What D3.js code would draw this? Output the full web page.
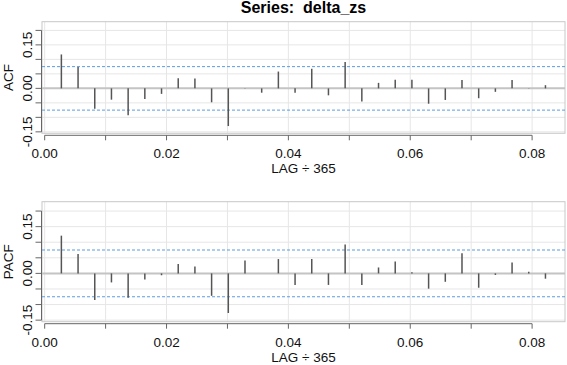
<!DOCTYPE html>
<html>
<head>
<meta charset="utf-8">
<script src="https://cdn.jsdelivr.net/npm/d3@7"></script>
<style>
  body { margin: 0; background: #fff; }
  svg { display: block; font-family: "Liberation Sans", Arial, sans-serif; }
</style>
</head>
<body>
<div id="chart"></div>
<script>
// lags 1..30, shown as LAG / 365
const lags = [1, 2, 3, 4, 5, 6, 7, 8, 9, 10, 11, 12, 13, 14, 15,
              16, 17, 18, 19, 20, 21, 22, 23, 24, 25, 26, 27, 28, 29, 30];
const frequency = 365;

const acfValues = [0.117, 0.074, -0.070, -0.039, -0.093, -0.037, -0.019, 0.035, 0.034, -0.048,
                   -0.130, 0.001, -0.015, 0.058, -0.015, 0.068, -0.024, 0.091, -0.045, 0.019,
                   0.030, 0.030, -0.053, -0.040, 0.029, -0.034, -0.012, 0.029, 0.001, 0.011];

const pacfValues = [0.121, 0.062, -0.085, -0.029, -0.078, -0.020, -0.006, 0.030, 0.022, -0.072,
                    -0.127, 0.041, 0.000, 0.046, -0.037, 0.046, -0.037, 0.093, -0.037, 0.019,
                    0.038, 0.004, -0.049, -0.027, 0.065, -0.046, -0.005, 0.035, 0.005, -0.017];

const confBound = 0.075;
const xTicks = [0, 0.01, 0.02, 0.03, 0.04, 0.05, 0.06, 0.07, 0.08];
const xTickLabels = ["0.00", "", "0.02", "", "0.04", "", "0.06", "", "0.08"];
const yTicks = [-0.15, -0.1, -0.05, 0, 0.05, 0.1, 0.15, 0.2];
const yTickLabels = ["-0.15", "", "", "0.00", "", "", "0.15", ""];

const width = 567, height = 365;
const left = 42, right = 565;

const svg = d3.select("#chart").append("svg")
    .attr("width", width)
    .attr("height", height);

// Title (keep the double space)
svg.append("text")
    .attr("x", (left + right) / 2)
    .attr("y", 13)
    .attr("text-anchor", "middle")
    .attr("font-size", "16px")
    .attr("font-weight", "bold")
    .style("white-space", "pre")
    .text("Series:  delta_zs");

const x = d3.scaleLinear()
    .domain([-0.00044, 0.0854])
    .range([left, right]);

const panels = [
    { label: "ACF", values: acfValues, top: 21.7, bottom: 133.3 },
    { label: "PACF", values: pacfValues, top: 201.7, bottom: 321.7 }
];

panels.forEach(p => {
    const y = d3.scaleLinear()
        .domain([-0.155, 0.23])
        .range([p.bottom, p.top]);

    const g = svg.append("g");

    // grid
    g.selectAll(".vgrid").data(xTicks).enter().append("line")
        .attr("x1", d => x(d)).attr("x2", d => x(d))
        .attr("y1", p.top).attr("y2", p.bottom)
        .attr("stroke", "#e6e6e6").attr("stroke-width", 1);
    g.selectAll(".hgrid").data(yTicks).enter().append("line")
        .attr("x1", left).attr("x2", right)
        .attr("y1", d => y(d)).attr("y2", d => y(d))
        .attr("stroke", "#e6e6e6").attr("stroke-width", 1);

    // box
    g.append("rect")
        .attr("x", left).attr("y", p.top)
        .attr("width", right - left).attr("height", p.bottom - p.top)
        .attr("fill", "none").attr("stroke", "#c8c8c8").attr("stroke-width", 1);

    // zero line
    g.append("line")
        .attr("x1", left).attr("x2", right)
        .attr("y1", y(0)).attr("y2", y(0))
        .attr("stroke", "#c4c4c4").attr("stroke-width", 2);

    // confidence bounds
    [confBound, -confBound].forEach(v => {
        g.append("line")
            .attr("x1", left).attr("x2", right)
            .attr("y1", y(v)).attr("y2", y(v))
            .attr("stroke", "#5b9be0").attr("stroke-width", 1)
            .attr("stroke-dasharray", "3,2");
    });

    // spikes
    g.selectAll(".spike").data(p.values).enter().append("line")
        .attr("x1", (d, i) => x(lags[i] / frequency))
        .attr("x2", (d, i) => x(lags[i] / frequency))
        .attr("y1", y(0))
        .attr("y2", d => y(d))
        .attr("stroke", "#555").attr("stroke-width", 1.5);

    // y axis
    const yAxisX = left - 0.5;
    g.append("line")
        .attr("x1", yAxisX).attr("x2", yAxisX)
        .attr("y1", y(0.2)).attr("y2", y(-0.15))
        .attr("stroke", "#666");
    g.selectAll(".ytick").data(yTicks).enter().append("line")
        .attr("x1", yAxisX - 6).attr("x2", yAxisX)
        .attr("y1", d => y(d)).attr("y2", d => y(d))
        .attr("stroke", "#666");
    g.selectAll(".ylab").data(yTicks).enter().append("text")
        .attr("transform", d => `translate(32,${y(d)}) rotate(-90)`)
        .attr("text-anchor", "middle")
        .attr("font-size", "13.5px")
        .attr("fill", "#111")
        .text((d, i) => yTickLabels[i]);

    // x axis
    const xAxisY = p.bottom + 2;
    g.append("line")
        .attr("x1", x(0)).attr("x2", x(0.08))
        .attr("y1", xAxisY).attr("y2", xAxisY)
        .attr("stroke", "#666");
    g.selectAll(".xtick").data(xTicks).enter().append("line")
        .attr("x1", d => x(d)).attr("x2", d => x(d))
        .attr("y1", xAxisY).attr("y2", xAxisY + 5)
        .attr("stroke", "#666");
    g.selectAll(".xlab").data(xTicks).enter().append("text")
        .attr("x", d => x(d))
        .attr("y", p.bottom + 25)
        .attr("text-anchor", "middle")
        .attr("font-size", "13.5px")
        .attr("fill", "#111")
        .text((d, i) => xTickLabels[i]);

    // axis titles
    g.append("text")
        .attr("transform", `translate(13,${(p.top + p.bottom) / 2}) rotate(-90)`)
        .attr("text-anchor", "middle")
        .attr("font-size", "13.5px")
        .attr("fill", "#111")
        .text(p.label);
    g.append("text")
        .attr("x", (left + right) / 2)
        .attr("y", p.bottom + 40)
        .attr("text-anchor", "middle")
        .attr("font-size", "13.5px")
        .attr("fill", "#111")
        .text("LAG \u00F7 365");
});
</script>
</body>
</html>
